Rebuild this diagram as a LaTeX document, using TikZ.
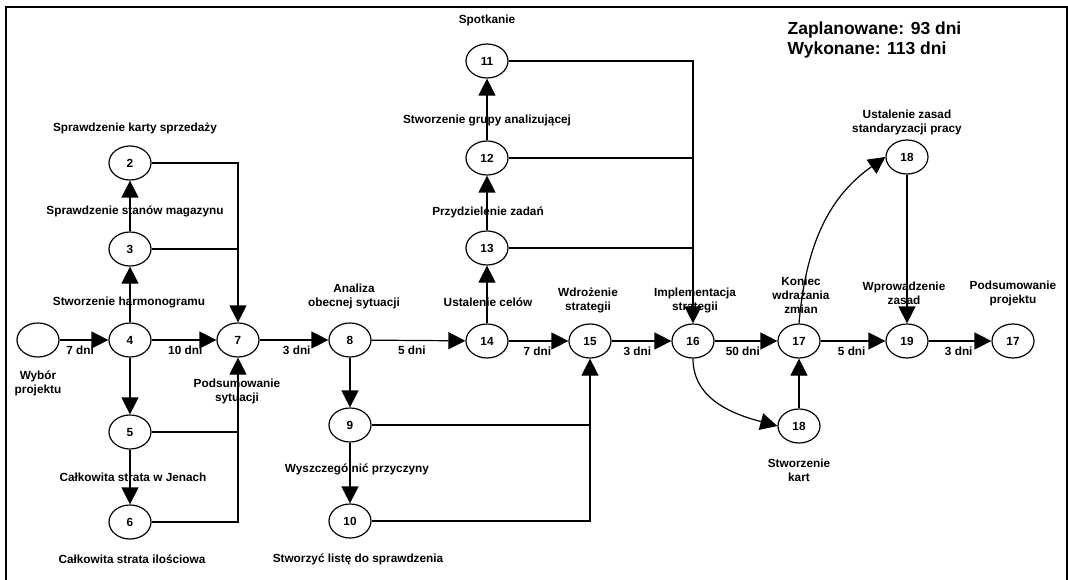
\documentclass[tikz,border=0pt]{standalone}
\usepackage{fontspec}
\setmainfont{Liberation Sans}
\usetikzlibrary{shapes.geometric,arrows.meta}

\begin{document}
\begin{tikzpicture}[x=1pt,y=-1pt,
      line width=1.2pt,
      every node/.style={font=\bfseries\fontsize{11.8}{14}\selectfont,align=center},
      event/.style={ellipse,draw,minimum width=42pt,minimum height=34pt,inner sep=0pt},
      task/.style={inner sep=0pt},
      arr/.style={-{Triangle[length=17pt,width=17pt]}},
      dni/.style={below=5pt,inner sep=0pt}]
    \useasboundingbox (0,0) rectangle (1068,580);
    \draw (6,580) -- (6,7) -- (1067,7) -- (1067,580);

    \node[task,anchor=west,align=left,font=\bfseries\fontsize{17.5}{20}\selectfont]
      (sum) at (787,40) {Zaplanowane: 93 dni\\Wykonane: 113 dni};

    \node[event] (n0) at (38,340) {};
    \node[event] (n4) at (130,340) {4};
    \node[event] (n3) at (130,249) {3};
    \node[event] (n2) at (130,163) {2};
    \node[event] (n5) at (130,432) {5};
    \node[event] (n6) at (130,522) {6};
    \node[event] (n7) at (238,340) {7};
    \node[event] (n8) at (350,340) {8};
    \node[event] (n9) at (350,425) {9};
    \node[event] (n10) at (350,521) {10};
    \node[event] (n14) at (487,341) {14};
    \node[event] (n13) at (487,248) {13};
    \node[event] (n12) at (487,158) {12};
    \node[event] (n11) at (487,61) {11};
    \node[event] (n15) at (590,341) {15};
    \node[event] (n16) at (693,341) {16};
    \node[event] (n18b) at (799,426) {18};
    \node[event] (n17) at (799,341) {17};
    \node[event] (n18t) at (907,157) {18};
    \node[event] (n19) at (907,341) {19};
    \node[event] (n17b) at (1013,341) {17};

    \node[task] (t0) at (38,383) {Wybór\\projektu};
    \node[task] (t4) at (129,302) {Stworzenie harmonogramu};
    \node[task] (t3) at (135,211) {Sprawdzenie stanów magazynu};
    \node[task] (t2) at (135,128) {Sprawdzenie karty sprzedaży};
    \node[task] (t5) at (133,477) {Całkowita strata w Jenach};
    \node[task] (t6) at (132,559) {Całkowita strata ilościowa};
    \node[task] (t7) at (237,391) {Podsumowanie\\sytuacji};
    \node[task] (t8) at (354,296) {Analiza\\obecnej sytuacji};
    \node[task] (t9) at (357,469) {Wyszczególnić przyczyny};
    \node[task] (t10) at (358,559) {Stworzyć listę do sprawdzenia};
    \node[task] (t14) at (488,302) {Ustalenie celów};
    \node[task] (t13) at (488,212) {Przydzielenie zadań};
    \node[task] (t12) at (487,120) {Stworzenie grupy analizującej};
    \node[task] (t11) at (487,20) {Spotkanie};
    \node[task] (t15) at (588,300) {Wdrożenie\\strategii};
    \node[task] (t16) at (695,300) {Implementacja\\strategii};
    \node[task] (t17) at (801,295) {Koniec\\wdrażania\\zmian};
    \node[task] (t18b) at (799,470) {Stworzenie\\kart};
    \node[task] (t18t) at (907,122) {Ustalenie zasad\\standaryzacji pracy};
    \node[task] (t19) at (904,293) {Wprowadzenie\\zasad};
    \node[task] (t17b) at (1013,293) {Podsumowanie\\projektu};

    \draw[arr] (n0) -- node[dni,pos=0.42] {7 dni} (n4);
    \draw[arr] (n4) -- node[dni,pos=0.52] {10 dni} (n7);
    \draw[arr] (n7) -- node[dni,pos=0.54] {3 dni} (n8);
    \draw[arr] (n8) -- node[dni,pos=0.43] {5 dni} (n14);
    \draw[arr] (n14) -- node[dni,pos=0.48] {7 dni} (n15);
    \draw[arr] (n15) -- node[dni,pos=0.43] {3 dni} (n16);
    \draw[arr] (n16) -- node[dni,pos=0.45] {50 dni} (n17);
    \draw[arr] (n17) -- node[dni,pos=0.48] {5 dni} (n19);
    \draw[arr] (n19) -- node[dni,pos=0.48] {3 dni} (n17b);

    \draw[arr] (n4) -- (n3);
    \draw[arr] (n3) -- (n2);
    \draw[arr] (n4) -- (n5);
    \draw[arr] (n5) -- (n6);
    \draw[arr] (n2) -| (n7);
    \draw (n3) -- (n3 -| n7);
    \draw[arr] (n6) -| (n7);
    \draw (n5) -- (n5 -| n7);

    \draw[arr] (n8) -- (n9);
    \draw[arr] (n9) -- (n10);
    \draw[arr] (n10) -| (n15);
    \draw (n9) -- (n9 -| n15);

    \draw[arr] (n14) -- (n13);
    \draw[arr] (n13) -- (n12);
    \draw[arr] (n12) -- (n11);
    \draw[arr] (n11) -| (n16);
    \draw (n12) -- (n12 -| n16);
    \draw (n13) -- (n13 -| n16);

    \draw[arr] (n16.south) to[out=-90,in=165] (n18b.west);
    \draw[arr] (n18b) -- (n17);
    \draw[arr] (n17.north) to[out=85,in=215] (n18t.west);
    \draw[arr] (n18t) -- (n19);
  \end{tikzpicture}
\end{document}
